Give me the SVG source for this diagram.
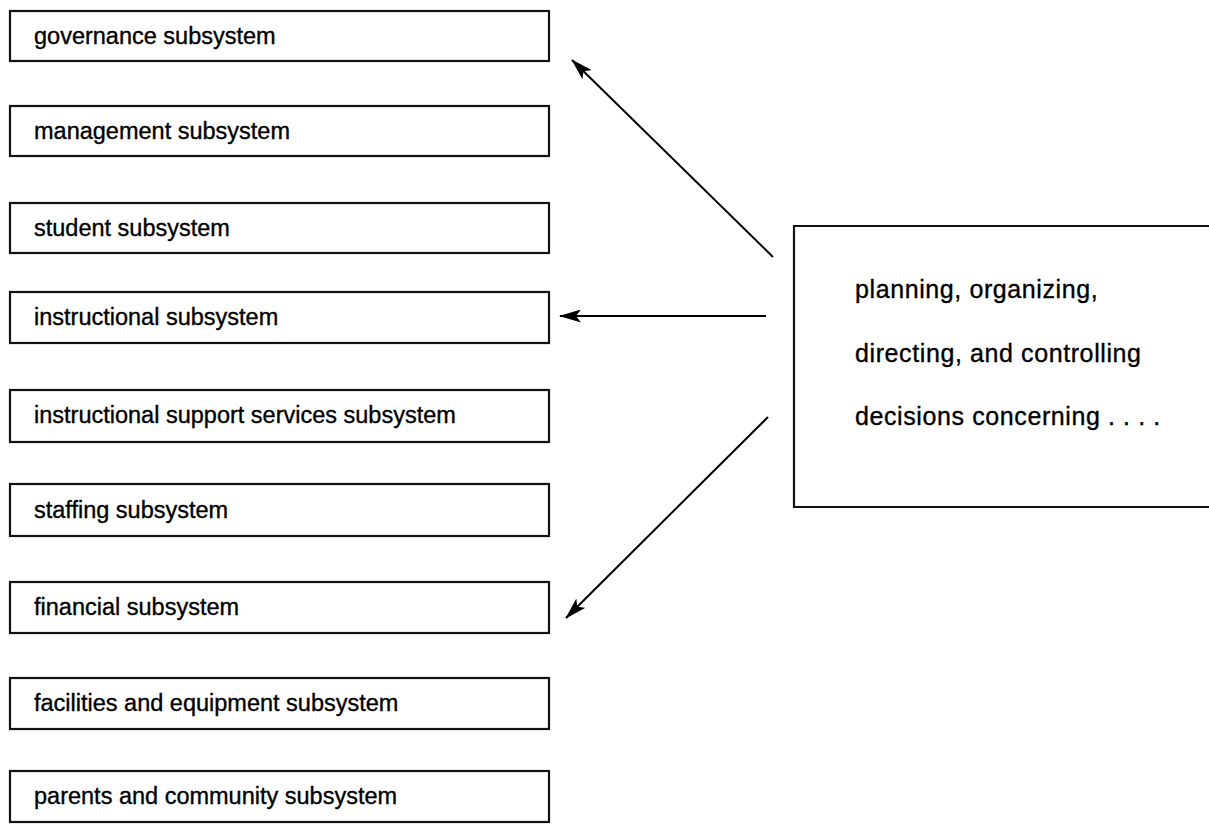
<svg xmlns="http://www.w3.org/2000/svg" width="1209" height="826" viewBox="0 0 1209 826">
<style>
.box{fill:#fff;stroke:#111;stroke-width:2.2}
.lbl{font-family:"Liberation Sans",Arial,sans-serif;font-size:23.5px;fill:#000;stroke:#000;stroke-width:0.35}
.rt{font-family:"Liberation Sans",Arial,sans-serif;font-size:25px;letter-spacing:0.6px;fill:#000;stroke:#000;stroke-width:0.35}
.conn{stroke:#000;stroke-width:2;fill:none;marker-end:url(#ah)}
</style>
<defs>
<marker id="ah" markerWidth="22" markerHeight="13" refX="21" refY="6.5" orient="auto" markerUnits="userSpaceOnUse">
<path d="M0,0 L22,6.5 L0,13 L5,6.5 Z" fill="#000"/>
</marker>
</defs>
<rect width="1209" height="826" fill="#fff"/>
<g id="n1"><rect class="box" x="10" y="11" width="539" height="50"/><text class="lbl" x="34" y="44">governance subsystem</text></g>
<g id="n2"><rect class="box" x="10" y="106" width="539" height="50"/><text class="lbl" x="34" y="139">management subsystem</text></g>
<g id="n3"><rect class="box" x="10" y="203" width="539" height="50"/><text class="lbl" x="34" y="236">student subsystem</text></g>
<g id="n4"><rect class="box" x="10" y="292" width="539" height="51"/><text class="lbl" x="34" y="325">instructional subsystem</text></g>
<g id="n5"><rect class="box" x="10" y="390" width="539" height="52"/><text class="lbl" x="34" y="423">instructional support services subsystem</text></g>
<g id="n6"><rect class="box" x="10" y="484" width="539" height="52"/><text class="lbl" x="34" y="518">staffing subsystem</text></g>
<g id="n7"><rect class="box" x="10" y="582" width="539" height="51"/><text class="lbl" x="34" y="615">financial subsystem</text></g>
<g id="n8"><rect class="box" x="10" y="678" width="539" height="51"/><text class="lbl" x="34" y="711">facilities and equipment subsystem</text></g>
<g id="n9"><rect class="box" x="10" y="771" width="539" height="51"/><text class="lbl" x="34" y="804">parents and community subsystem</text></g>
<g id="n10"><path class="box" d="M1212,226 L794,226 L794,507 L1212,507"/>
<text class="rt" x="855" y="298">planning, organizing,</text>
<text class="rt" x="855" y="362">directing, and controlling</text>
<text class="rt" x="855" y="425">decisions concerning . . . .</text></g>
<g id="connectors">
<line class="conn" x1="773" y1="257" x2="572" y2="60"/>
<line class="conn" x1="766" y1="316" x2="560" y2="316"/>
<line class="conn" x1="768" y1="417" x2="566" y2="618"/>
</g>
</svg>
